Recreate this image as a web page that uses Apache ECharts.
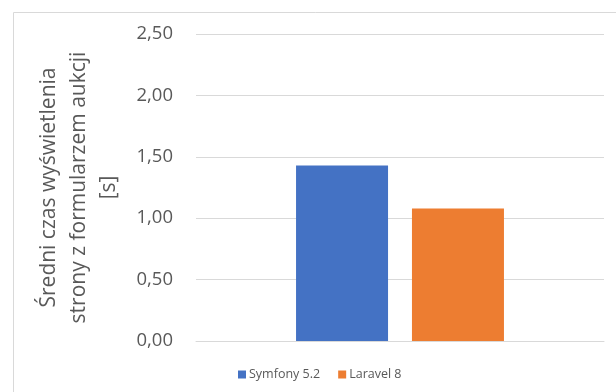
<!DOCTYPE html>
<html>
<head>
<meta charset="utf-8">
<script src="https://cdn.jsdelivr.net/npm/echarts@6/dist/echarts.min.js"></script>
<style>
  html, body { margin: 0; padding: 0; background: #fff; }
  #chart { width: 616px; height: 392px; }
</style>
</head>
<body>
<div id="chart"></div>
<script>
// --- data ---
const categories = [''];
const seriesNames = ['Symfony 5.2', 'Laravel 8'];
const symfonyValues = [1.43];
const laravelValues = [1.08];
const seriesColors = ['#4472C4', '#ED7D31'];
const yTitle = 'Średni czas wyświetlenia\nstrony z formularzem aukcji\n[s]';

const chart = echarts.init(document.getElementById('chart'));

const option = {
  animation: false,
  textStyle: { fontFamily: 'Open Sans' },
  graphic: [{
    type: 'rect',
    shape: { x: 13.5, y: 12.5, width: 700, height: 500 },
    style: { fill: 'none', stroke: '#d9d9d9', lineWidth: 1 },
    silent: true
  }],
  legend: {
    data: seriesNames,
    bottom: 6,
    left: 233,
    itemWidth: 8,
    itemHeight: 8,
    itemGap: 18,
    icon: 'rect',
    textStyle: { color: '#595959', fontSize: 12.5, padding: [0, 0, 0, -2] }
  },
  grid: { left: 196, right: 12, top: 34, bottom: 51 },
  xAxis: {
    type: 'category',
    data: categories,
    axisLine: { show: true, lineStyle: { color: '#d9d9d9' } },
    axisTick: { show: false },
    axisLabel: { show: false }
  },
  yAxis: {
    type: 'value',
    min: 0,
    max: 2.5,
    interval: 0.5,
    name: yTitle,
    nameLocation: 'middle',
    nameRotate: 90,
    nameGap: 72,
    nameTextStyle: { color: '#595959', fontSize: 21, lineHeight: 30, align: 'center' },
    axisLine: { show: false },
    axisTick: { show: false },
    axisLabel: {
      color: '#595959',
      fontSize: 18.5,
      margin: 23,
      formatter: v => v.toFixed(2).replace('.', ',')
    },
    splitLine: { lineStyle: { color: '#d9d9d9', width: 1 } }
  },
  series: [
    {
      name: seriesNames[0],
      type: 'bar',
      data: symfonyValues,
      barWidth: 92,
      barGap: '26%',
      itemStyle: { color: seriesColors[0] }
    },
    {
      name: seriesNames[1],
      type: 'bar',
      data: laravelValues,
      barWidth: 92,
      itemStyle: { color: seriesColors[1] }
    }
  ]
};

chart.setOption(option);
</script>
</body>
</html>
